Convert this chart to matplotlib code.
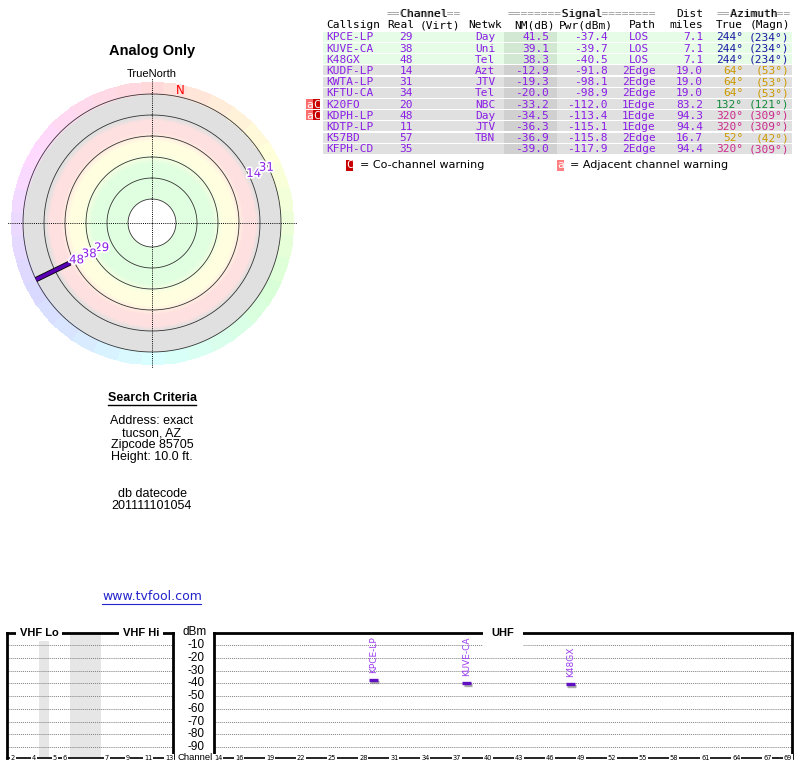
import colorsys
import numpy as np
import matplotlib
matplotlib.use("Agg")
import matplotlib.pyplot as plt
from matplotlib import colors, patheffects
from matplotlib.patches import Rectangle
from matplotlib.transforms import blended_transform_factory

# station table
callsigns = ['KPCE-LP', 'KUVE-CA', 'K48GX', 'KUDF-LP', 'KWTA-LP', 'KFTU-CA',
             'K20FO', 'KDPH-LP', 'KDTP-LP', 'K57BD', 'KFPH-CD']
real_ch = [29, 38, 48, 14, 31, 34, 20, 48, 11, 57, 35]
netwk = ['Day', 'Uni', 'Tel', 'Azt', 'JTV', 'Tel', 'NBC', 'Day', 'JTV', 'TBN', '']
nm_db = [41.5, 39.1, 38.3, -12.9, -19.3, -20.0, -33.2, -34.5, -36.3, -36.9, -39.0]
pwr_dbm = [-37.4, -39.7, -40.5, -91.8, -98.1, -98.9, -112.0, -113.4, -115.1, -115.8, -117.9]
path = ['LOS', 'LOS', 'LOS', '2Edge', '2Edge', '2Edge', '1Edge', '1Edge', '1Edge', '2Edge', '2Edge']
dist_mi = [7.1, 7.1, 7.1, 19.0, 19.0, 19.0, 83.2, 94.3, 94.4, 16.7, 94.4]
az_true = [244, 244, 244, 64, 64, 64, 132, 320, 320, 52, 320]
az_magn = [234, 234, 234, 53, 53, 53, 121, 309, 309, 42, 309]
warnings = ['', '', '', '', '', '', 'aC', 'aC', '', '', '']

criteria_lines = ['Address: exact', 'tucson, AZ', 'Zipcode 85705', 'Height: 10.0 ft.']
datecode_lines = ['db datecode', '201111101054']

# radar rings (NM dB)
ring_nm = [72, 52, 32, 12, -8, -28]
radar_min_nm = -19.5

# spectrum
dbm_ticks = [-10, -20, -30, -40, -50, -60, -70, -80, -90]
vhf_ticks = [2, 4, 5, 6, 7, 9, 11, 13]
vhf_slot = {2: 0, 3: 1, 4: 2, 5: 4, 6: 5, 7: 9, 8: 10, 9: 11, 10: 12, 11: 13, 12: 14, 13: 15}
vhf_gaps = [(2.5, 3.5), (5.5, 8.5)]
uhf_ticks = [14, 16, 19, 22, 25, 28, 31, 34, 37, 40, 43, 46, 49, 52, 55, 58, 61, 64, 67, 69]

PURPLE = '#8a1ee6'
az_colors = {244: '#1a1aa6', 64: '#cc9900', 52: '#cc9900', 132: '#138a3a', 320: '#cc2a8c'}
SANS = 'Liberation Sans'
MONO = 'DejaVu Sans Mono'

W, H = 800, 768


def fig_box(x0, y0, x1, y1):
    return [x0 / W, 1 - y1 / H, (x1 - x0) / W, (y1 - y0) / H]


def r_of(nm):
    return 24 + 1.05 * (ring_nm[0] - nm)


def main():
    fig = plt.figure(figsize=(8, 7.68), dpi=100)
    cv = fig.add_axes([0, 0, 1, 1])
    cv.set_xlim(0, W)
    cv.set_ylim(H, 0)
    cv.axis('off')

    # ---------------- table ----------------
    row_top, row_h = 31.7, 11.2
    hdr1_gray = [('==Channel==', 387), ('========Signal========', 508), ('==Azimuth==', 717)]
    for s, x in hdr1_gray:
        cv.text(x, 14, s, family=MONO, fontsize=8, color='#999999', ha='left', va='center')
        word = ''.join(' ' if c == '=' else c for c in s)
        cv.text(x, 14, word, family=MONO, fontsize=8, color='black', ha='left', va='center')
    cv.text(703, 14, 'Dist', family=MONO, fontsize=8, ha='right', va='center')
    hdr2 = [('Callsign', 326, 'left'), ('Real', 387, 'left'), ('(Virt)', 420, 'left'),
            ('Netwk', 485, 'center'), ('NM(dB)', 555, 'right'), ('Pwr(dBm)', 613, 'right'),
            ('Path', 642, 'center'), ('miles', 703, 'right'), ('True', 743, 'right'),
            ('(Magn)', 790, 'right')]
    for s, x, ha in hdr2:
        cv.text(x, 25, s, family=MONO, fontsize=8, ha=ha, va='center')

    for i, cs in enumerate(callsigns):
        top = row_top + i * row_h
        strong = nm_db[i] > 0
        cv.add_patch(Rectangle((323, top), 469, row_h - 1,
                               fc='#e6fce6' if strong else '#e0e0e0', lw=0))
        cv.add_patch(Rectangle((504, top), 53, row_h - 1,
                               fc='#d3e8d3' if strong else '#d0d0d0', lw=0))
        yc = top + (row_h - 1) / 2 + 0.5
        kw = dict(family=MONO, fontsize=8, va='center', color=PURPLE)
        cv.text(326, yc, cs, ha='left', **kw)
        cv.text(413, yc, str(real_ch[i]), ha='right', **kw)
        cv.text(485, yc, netwk[i], ha='center', **kw)
        cv.text(549, yc, f'{nm_db[i]:.1f}', ha='right', **kw)
        cv.text(608, yc, f'{pwr_dbm[i]:.1f}', ha='right', **kw)
        cv.text(639, yc, path[i], ha='center', **kw)
        cv.text(703, yc, f'{dist_mi[i]:.1f}', ha='right', **kw)
        kw['color'] = az_colors[az_true[i]]
        cv.text(743, yc, f'{az_true[i]}\u00b0', ha='right', **kw)
        cv.text(789, yc, f'({az_magn[i]}\u00b0)', ha='right', **kw)
        for k, flag in enumerate(warnings[i]):
            x0 = 306 + 7 * k
            cv.add_patch(Rectangle((x0, top), 7, row_h - 1, lw=0,
                                   fc='#ff6f6f' if flag == 'a' else '#c80000'))
            cv.text(x0 + 3.5, yc, flag, family=MONO, fontsize=8, color='white',
                    ha='center', va='center')

    # legend
    cv.add_patch(Rectangle((346, 159.5), 7, 11, fc='#c80000', lw=0))
    cv.text(349.5, 165, 'C', family=MONO, fontsize=8, color='white', ha='center', va='center')
    cv.text(360, 165, '= Co-channel warning', fontsize=8, ha='left', va='center')
    cv.add_patch(Rectangle((557, 159.5), 7, 11, fc='#ff8080', lw=0))
    cv.text(560.5, 165, 'a', family=MONO, fontsize=8, color='white', ha='center', va='center')
    cv.text(570, 165, '= Adjacent channel warning', fontsize=8, ha='left', va='center')

    # ---------------- radar ----------------
    cv.text(152, 51, 'Analog Only', family=SANS, fontsize=10.5, weight='bold',
            ha='center', va='center')
    cv.text(152, 74, 'TrueNorth', family=SANS, fontsize=8, ha='center', va='center')

    ax = fig.add_axes(fig_box(7, 78, 297, 368), projection='polar')
    ax.set_theta_zero_location('N')
    ax.set_theta_direction(-1)
    ax.axis('off')
    ax.set_ylim(0, 145)

    ring_r = [r_of(v) for v in ring_nm]
    r_in, r_out = ring_r[0], ring_r[-1]
    stops = [(24, '#e0ffe0'), (60, '#e0ffe0'), (71, '#ffffe0'), (82, '#ffffe0'),
             (92, '#ffe0e0'), (103, '#ffe0e0'), (108, '#e0e0e0'), (129, '#e0e0e0')]
    rad_cmap = colors.LinearSegmentedColormap.from_list(
        'rad', [((r - 24) / 105, c) for r, c in stops])
    th_e = np.linspace(0, 2 * np.pi, 145)
    r_e = np.linspace(r_in, r_out, 106)
    T, R = np.meshgrid(th_e, r_e)
    C = np.tile(((r_e[:-1] + r_e[1:]) / 2)[:, None], (1, len(th_e) - 1))
    ax.pcolormesh(T, R, C, cmap=rad_cmap, norm=colors.Normalize(r_in, r_out),
                  shading='flat', edgecolors='face', linewidth=0.4)

    # pastel compass ring
    n_sec = 36
    th_s = np.linspace(-np.pi / n_sec, 2 * np.pi - np.pi / n_sec, n_sec + 1)
    th_fine = np.linspace(th_s[0], th_s[-1], n_sec * 6 + 1)
    sec_idx = np.floor((th_fine[:-1] - th_s[0]) / (2 * np.pi / n_sec) + 1e-9).astype(int)
    hue_cols = [colorsys.hsv_to_rgb(k / n_sec, 0.15, 1.0) for k in range(n_sec)]
    T2, R2 = np.meshgrid(th_fine, [r_out, r_out + 12])
    ax.pcolormesh(T2, R2, sec_idx[None, :], cmap=colors.ListedColormap(hue_cols),
                  norm=colors.Normalize(-0.5, n_sec - 0.5), shading='flat',
                  edgecolors='face', linewidth=0.4)

    ax.bar(0, r_in, width=2 * np.pi, bottom=0, color='white', lw=0)
    th_full = np.linspace(0, 2 * np.pi, 361)
    for r in ring_r:
        ax.plot(th_full, np.full_like(th_full, r), color='#333333', lw=0.6)
    for th in [0, np.pi / 2, np.pi, 3 * np.pi / 2]:
        ax.plot([th, th], [0, 145], color='black', ls=(0, (1, 1.2)), lw=0.7)

    decl = az_true[0] - az_magn[0]
    ax.text(np.deg2rad(decl), 135, 'N', color='red', fontsize=8.5, ha='left', va='center')

    halo = [patheffects.withStroke(linewidth=2.5, foreground='white')]
    shown = [i for i in range(len(callsigns)) if nm_db[i] > radar_min_nm]
    for az in sorted(set(az_true[i] for i in shown)):
        grp = sorted([i for i in shown if az_true[i] == az], key=lambda i: -nm_db[i])
        th = np.deg2rad(az)
        last = None
        labels = []
        for i in grp:
            r = r_of(nm_db[i])
            if last is not None:
                r = max(r, last + 14)
            labels.append((i, r))
            last = r
        if last + 7 < r_out:
            ax.plot([th, th], [last + 7, r_out], color='#5a00b4', lw=2.6,
                    solid_capstyle='butt',
                    path_effects=[patheffects.Stroke(linewidth=3.8, foreground='black'),
                                  patheffects.Normal()])
        for i, r in labels:
            ax.text(th, r, str(real_ch[i]), color=PURPLE, fontsize=8.5, ha='center',
                    va='center', path_effects=halo)

    # ---------------- search criteria ----------------
    cv.text(152, 398, 'Search Criteria', family=SANS, fontsize=9, weight='bold',
            ha='center', va='center')
    cv.plot([108, 196], [405, 405], color='black', lw=1)
    for k, s in enumerate(criteria_lines):
        cv.text(152, 421 + 12 * k, s, family=SANS, fontsize=9, ha='center', va='center')
    for k, s in enumerate(datecode_lines):
        cv.text(152, 494 + 12 * k, s, family=SANS, fontsize=9, ha='center', va='center')
    cv.text(152, 597, 'www.tvfool.com', fontsize=9, color='#2323cc', ha='center', va='center')
    cv.plot([102, 201], [604, 604], color='#2323cc', lw=0.8)

    # ---------------- spectrum ----------------
    ax_v = fig.add_axes(fig_box(7, 633, 173, 758))
    ax_u = fig.add_axes(fig_box(214, 633, 792, 758))
    ax_v.set_xlim(-0.58, 15.38)
    ax_u.set_xlim(13.585, 69.38)
    for a in (ax_v, ax_u):
        a.set_ylim(-98.6, -0.6)
        a.set_xticks([])
        a.set_yticks([])
        a.patch.set_alpha(0)
        for side in ('top', 'left', 'right'):
            a.spines[side].set_linewidth(2)
        a.spines['bottom'].set_linewidth(1.2)
        for v in dbm_ticks:
            a.axhline(v, color='#808080', ls=(0, (1, 1)), lw=0.7, zorder=1)

    for lo, hi in vhf_gaps:
        ax_v.axvspan(lo, hi, color='#e6e6e6', lw=0, zorder=0)

    tbox = dict(facecolor='white', edgecolor='none', pad=2.5)
    ax_v.text(0.193, 1, 'VHF Lo', transform=ax_v.transAxes, family=SANS, fontsize=8,
              weight='bold', ha='center', va='center', bbox=tbox, clip_on=False)
    ax_v.text(0.807, 1, 'VHF Hi', transform=ax_v.transAxes, family=SANS, fontsize=8,
              weight='bold', ha='center', va='center', bbox=tbox, clip_on=False)
    ax_u.text(0.5, 1, 'UHF', transform=ax_u.transAxes, family=SANS, fontsize=8,
              weight='bold', ha='center', va='center', bbox=dict(tbox, pad=6), clip_on=False)

    nbox = dict(facecolor='white', edgecolor='none', pad=0.6)
    for ch in vhf_ticks:
        ax_v.text(vhf_slot[ch], 0, str(ch), transform=ax_v.get_xaxis_transform(),
                  fontsize=4.8, ha='center', va='center', bbox=nbox, clip_on=False)
    for ch in uhf_ticks:
        ax_u.text(ch, 0, str(ch), transform=ax_u.get_xaxis_transform(),
                  fontsize=4.8, ha='center', va='center', bbox=nbox, clip_on=False)

    mid = blended_transform_factory(cv.transData, ax_u.transData)
    for v in dbm_ticks:
        cv.text(196, v, str(v), transform=mid, family=SANS, fontsize=8.5,
                ha='center', va='center')
    cv.text(195, 632, 'dBm', family=SANS, fontsize=8.5, ha='center', va='center')
    cv.text(195, 758, 'Channel', family=SANS, fontsize=6.8, ha='center', va='center')

    shadow = [patheffects.SimpleLineShadow(offset=(0.8, -1.2), shadow_color='#888888', alpha=0.7),
              patheffects.Normal()]
    for i, cs in enumerate(callsigns):
        if nm_db[i] <= 0:
            continue
        ch = real_ch[i]
        a, x = (ax_u, ch) if ch >= 14 else (ax_v, vhf_slot[ch])
        a.plot([x - 0.43, x + 0.43], [pwr_dbm[i], pwr_dbm[i]], color='#6010c0', lw=2.4,
               solid_capstyle='butt', path_effects=shadow, zorder=3)
        a.text(x, pwr_dbm[i] + 5.2, cs, rotation=90, color='#9a3cf0', fontsize=6.5,
               ha='center', va='bottom', zorder=3)

    fig.savefig('out.png', dpi=100)


if __name__ == "__main__":
    main()
